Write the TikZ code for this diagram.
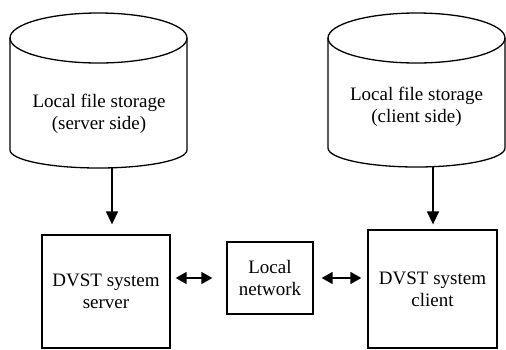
\documentclass[tikz,border=0pt]{standalone}
\usepackage{fontspec}
\setmainfont{Liberation Serif}
\usetikzlibrary{arrows.meta,positioning,calc}

\begin{document}
\begin{tikzpicture}[
  x=1pt, y=-1pt,
  store/.style={line width=1.3pt},
  lbl/.style={align=center, font=\fontsize{19}{22}\selectfont, inner sep=0pt},
  unit/.style={rectangle, draw, line width=1.3pt, align=center, font=\fontsize{19}{22}\selectfont},
  flow/.style={-{Triangle[length=13pt,width=12pt]}, line width=1.6pt},
  link/.style={{Triangle[length=11pt,width=12pt]}-{Triangle[length=11pt,width=12pt]}, line width=1.6pt}
]
  \useasboundingbox (0,0) rectangle (506,349);

  % storage cylinders
  \draw[store] (10,38) -- (10,150) arc[start angle=180, end angle=0, x radius=88.5, y radius=18] -- (187,38);
  \draw[store] (98.5,38) ellipse[x radius=88.5, y radius=25];
  \node[lbl] (srvstore) at (99,114) {Local file storage\\(server side)};
  \coordinate (srvbot) at (112,168);

  \draw[store] (328,38) -- (328,148) arc[start angle=180, end angle=0, x radius=88.5, y radius=19] -- (505,38);
  \draw[store] (416.5,38) ellipse[x radius=88.5, y radius=25];
  \node[lbl] (clistore) at (416.5,107) {Local file storage\\(client side)};
  \coordinate (clibot) at (433,167);

  % system boxes
  \node[unit, minimum width=128pt, minimum height=113pt] (srv) at (106,291.5) {DVST system\\server};
  \node[unit, minimum width=86pt, minimum height=72pt] (net) at (270,278) {Local\\network};
  \node[unit, minimum width=129pt, minimum height=118pt] (cli) at (432.5,289) {DVST system\\client};

  \draw[flow, shorten >=10pt] (srvbot) -- (srvbot |- srv.north);
  \draw[flow, shorten >=5pt] (clibot) -- (clibot |- cli.north);
  \draw[link, shorten <=5pt, shorten >=14pt] (srv.east |- net.west) -- (net.west);
  \draw[link, shorten <=8pt, shorten >=6pt] (net.east) -- (net.east -| cli.west);
\end{tikzpicture}
\end{document}
